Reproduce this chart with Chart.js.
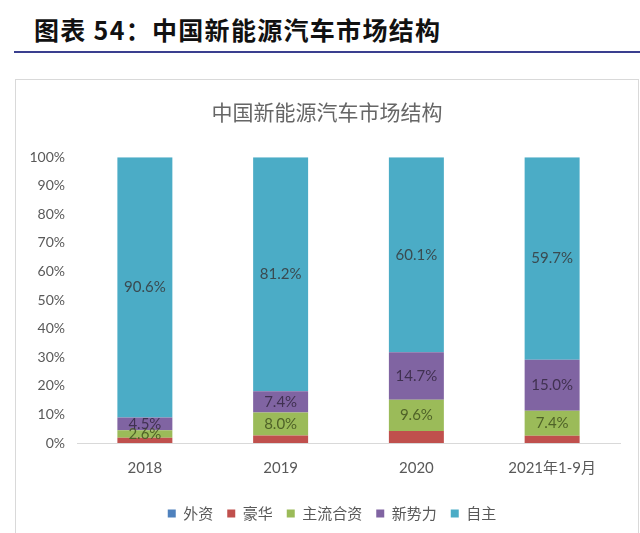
<!DOCTYPE html>
<html>
<head>
<meta charset="utf-8">
<script src="https://cdn.jsdelivr.net/npm/chart.js@4.4.0/dist/chart.umd.min.js"></script>
<style>
  html,body{margin:0;padding:0;background:#fff;width:640px;height:533px;overflow:hidden;}
  #hdr{position:absolute;left:34px;top:11px;font:bold 25px "Noto Sans CJK SC",sans-serif;color:#111;letter-spacing:1.3px;white-space:nowrap;}
  #rule{position:absolute;left:14px;top:51px;width:626px;height:2px;background:#3a3f8f;}
  #box{position:absolute;left:15px;top:79px;width:622px;height:470px;border:1px solid #d9d9d9;border-bottom:none;}
  #wrap{position:absolute;left:16px;top:80px;width:622px;height:453px;}
</style>
</head>
<body>
<div id="hdr">图表 54：中国新能源汽车市场结构</div>
<div id="rule"></div>
<div id="box"></div>
<div id="wrap"><canvas id="c" width="622" height="453"></canvas></div>
<script>
const categories = ['2018', '2019', '2020', '2021年1-9月'];
const seriesNames = ['外资', '豪华', '主流合资', '新势力', '自主'];
const waizi    = [0, 0, 0, 0];
const haohua   = [1.8, 2.6, 3.7, 2.1];
const zhuliu   = [2.6, 8.0, 9.6, 7.4];
const xinshili = [4.5, 7.4, 14.7, 15.0];
const zizhu    = [90.6, 81.2, 60.1, 59.7];
const yTicks = [0, 10, 20, 30, 40, 50, 60, 70, 80, 90, 100];

const colors = ['#4f81bd', '#c0504d', '#9bbb59', '#8064a2', '#4bacc6'];
const labelColors = [null, null, '#4f6228', '#403151', '#3a4a50'];
const raw = [waizi, haohua, zhuliu, xinshili, zizhu];
const totals = categories.map((_, i) => raw.reduce((s, a) => s + a[i], 0));

const datasets = raw.map((arr, k) => ({
  label: seriesNames[k],
  data: arr.map((v, i) => v / totals[i] * 100),
  rawValues: arr,
  backgroundColor: colors[k],
  borderWidth: 0,
  categoryPercentage: 1,
  barPercentage: 0.405,
  showLabel: labelColors[k] !== null,
  labelColor: labelColors[k]
}));

const labelPlugin = {
  id: 'barLabels',
  afterDatasetsDraw(chart) {
    const ctx = chart.ctx;
    ctx.save();
    ctx.font = '15px Lato, "Noto Sans CJK SC", sans-serif';
    ctx.textAlign = 'center';
    ctx.textBaseline = 'middle';
    chart.data.datasets.forEach((ds, di) => {
      if (!ds.showLabel) return;
      const meta = chart.getDatasetMeta(di);
      meta.data.forEach((bar, i) => {
        const v = ds.rawValues[i];
        if (!v) return;
        const y = (bar.y + bar.base) / 2;
        ctx.fillStyle = ds.labelColor;
        ctx.fillText(v.toFixed(1) + '%', bar.x, y);
      });
    });
    ctx.restore();
  }
};

const shiftPlugin = {
  id: 'shiftBlocks',
  afterLayout(chart) {
    if (chart.legend) { chart.legend.left += 14; chart.legend.right += 14; }
    if (chart.titleBlock) { chart.titleBlock.left += 9; chart.titleBlock.right += 9; }
  }
};

new Chart(document.getElementById('c'), {
  type: 'bar',
  data: { labels: categories, datasets },
  plugins: [labelPlugin, shiftPlugin],
  options: {
    responsive: false,
    animation: false,
    layout: { padding: { left: 0, right: 18, top: 0, bottom: 2 } },
    plugins: {
      tooltip: { enabled: false },
      title: {
        display: true,
        text: '中国新能源汽车市场结构',
        color: '#666',
        font: { family: '"Noto Sans CJK SC", sans-serif', size: 21, weight: 'normal' },
        padding: { top: 19, bottom: 33 }
      },
      legend: {
        position: 'bottom',
        labels: {
          color: '#595959',
          boxWidth: 8,
          boxHeight: 8,
          padding: 14,
          font: { family: '"Noto Sans CJK SC", sans-serif', size: 15 }
        }
      }
    },
    scales: {
      x: {
        stacked: true,
        grid: { display: false },
        border: { display: true, color: '#d9d9d9', width: 1 },
        afterFit(scale) { scale.height += 7; },
        ticks: { color: '#595959', padding: 8, font: { family: 'Lato, "Noto Sans CJK SC", sans-serif', size: 15 } }
      },
      y: {
        stacked: true,
        min: 0,
        max: 100,
        afterFit(scale) { scale.width = 61; },
        afterBuildTicks(scale) { scale.ticks = yTicks.map(v => ({ value: v })); },
        grid: { display: false },
        border: { display: false },
        ticks: {
          color: '#595959',
          padding: 4,
          font: { family: 'Lato, sans-serif', size: 14 },
          callback: v => v + '%'
        }
      }
    }
  }
});
</script>
</body>
</html>
